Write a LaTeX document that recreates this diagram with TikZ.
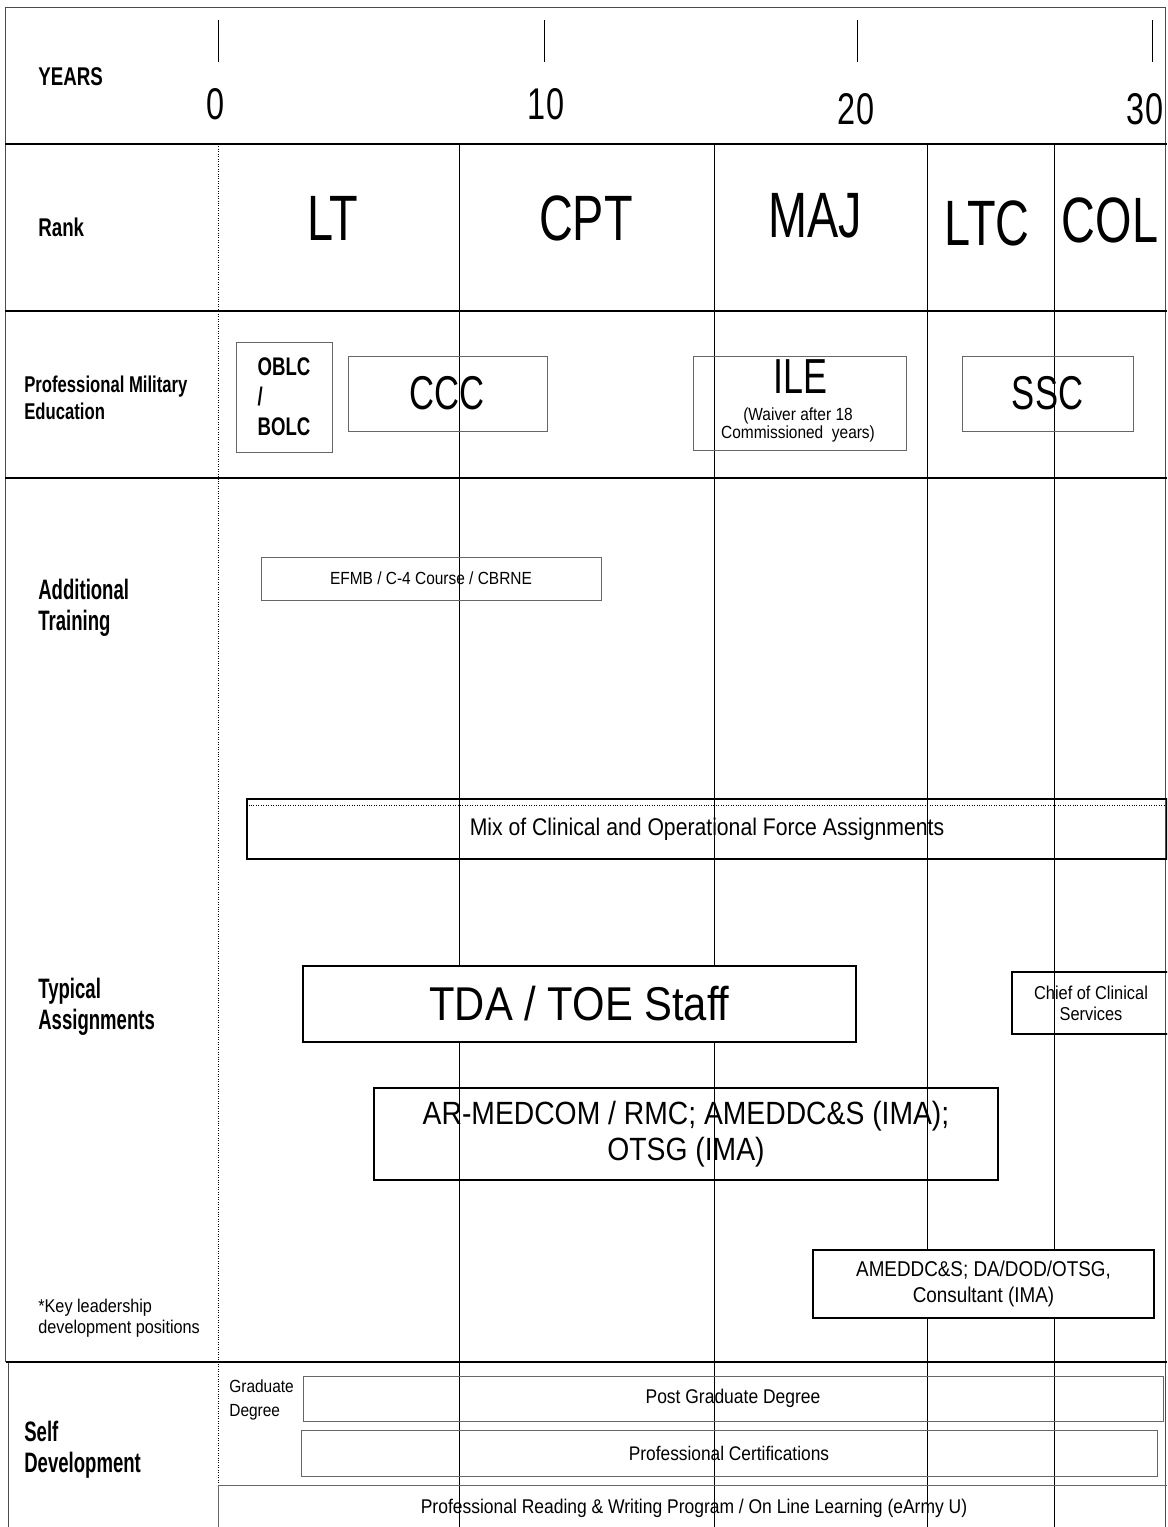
\documentclass[tikz,border=0pt]{standalone}
\usepackage{fontspec}
\setmainfont{Liberation Sans}[FakeStretch=0.88]
\newfontfamily\narrowfont{Liberation Sans}[FakeStretch=0.73]
\newfontfamily\headfont{Liberation Sans}[FakeStretch=0.66]

\newcommand{\fsz}[2]{\fontsize{#1}{#2}\selectfont}

\begin{document}
\begin{tikzpicture}[
      x=0.02cm, y=-0.02cm,
      rowlabel/.style={anchor=west, align=left, inner sep=0pt, font=\headfont\bfseries\fsz{16}{17.6}},
      ranklabel/.style={anchor=base, inner sep=0pt, font=\narrowfont\fsz{36.5}{40}},
      yearlabel/.style={anchor=base, inner sep=0pt, font=\narrowfont\fsz{25.3}{30}},
      course/.style={draw=black!60, align=center, inner sep=0pt},
      assign/.style={draw, line width=1pt, align=center, inner sep=0pt},
      divider/.style={line width=1.2pt},
      gridline/.style={thin},
      zeroline/.style={thin, densely dotted}
    ]
    \useasboundingbox (0,0) rectangle (1167,1527);
    \clip (0,0) rectangle (1167,1527);

    % frame and row dividers
    \draw[black!70] (5,1362) -- (5,7) -- (1165,7) -- (1165,1527);
    \draw[black!70] (8,1362) -- (8,1527);
    \foreach \y in {144,311,478} \draw[divider] (5,\y) -- (1167,\y);
    \draw[divider] (6,1362) -- (1167,1362);

    % year columns
    \draw[zeroline] (218,144) -- (218,1527);
    \foreach \x in {459,714,927,1054} \draw[gridline] (\x,144) -- (\x,1527);
    \foreach \x in {218,544,857,1152} \draw[gridline] (\x,20) -- (\x,62);

    \node[yearlabel] (y0) at (216,120) {0};
    \node[yearlabel] (y10) at (546,120) {10};
    \node[yearlabel] (y20) at (856,125) {20};
    \node[yearlabel] (y30) at (1145,125) {30};

    % ranks
    \node[ranklabel] (lt) at (333,241) {LT};
    \node[ranklabel] (cpt) at (586,241) {CPT};
    \node[ranklabel] (maj) at (815,238) {MAJ};
    \node[ranklabel] (ltc) at (987,246) {LTC};
    \node[ranklabel] (col) at (1110,243) {COL};

    % row labels
    \node[rowlabel, font=\narrowfont\bfseries\fsz{14.6}{17}] (years) at (38,77) {YEARS};
    \node[rowlabel, font=\narrowfont\bfseries\fsz{14.6}{17}] (rank) at (38,227) {Rank};
    \node[rowlabel, font=\narrowfont\bfseries\fsz{13}{15.3}] (pme) at (24,398) {Professional Military\\Education};
    \node[rowlabel] (addl) at (38,608) {Additional\\Training};
    \node[rowlabel] (typical) at (38,1007) {Typical\\Assignments};
    \node[rowlabel, font=\fsz{10.5}{11.9}] (keynote) at (38,1318) {*Key leadership\\development positions};
    \node[rowlabel] (self) at (24,1450) {Self\\Development};
    \node[rowlabel, font=\fsz{10}{13.6}] (grad) at (229,1400) {Graduate\\Degree};

    % professional military education
    \node[course, align=left, minimum width=1.92cm, minimum height=2.2cm, font=\narrowfont\bfseries\fsz{14.5}{17}] (oblc) at (284,397) {OBLC\\/\\BOLC};
    \node[course, minimum width=3.98cm, minimum height=1.5cm, font=\narrowfont\fsz{27}{30}] (ccc) at (447.5,393.5) {CCC};
    \node[course, minimum width=4.26cm, minimum height=1.88cm] (ile) at (799.5,403) {};
    \node[inner sep=0pt, font=\narrowfont\fsz{28}{30}] (iletxt) at (800,377) {ILE};
    \node[inner sep=0pt, align=center, font=\fsz{10}{8.5}] (waiver) at (798,425) {(Waiver after 18\\Commissioned\ \ years)};
    \node[course, minimum width=3.42cm, minimum height=1.5cm, font=\narrowfont\fsz{27}{30}] (ssc) at (1047.5,393.5) {SSC};

    % additional training
    \node[course, minimum width=6.8cm, minimum height=0.86cm, font=\fsz{10}{11}] (efmb) at (431,578.5) {EFMB / C-4 Course / CBRNE};

    % typical assignments
    \node[assign, line width=1.2pt, minimum width=18.4cm, minimum height=1.2cm, font=\fsz{13.7}{14}] (mix) at (707,829) {Mix of Clinical and Operational Force Assignments};
    \draw[densely dotted] ([yshift=-0.14cm]mix.north west) -- ([yshift=-0.14cm]mix.north east);
    \node[assign, fill=white, minimum width=11.06cm, minimum height=1.52cm, font=\fsz{27}{30}] (tda) at (579.5,1004) {TDA / TOE Staff};
    \node[assign, minimum width=3.16cm, minimum height=1.24cm, font=\fsz{10.6}{11.9}] (chief) at (1091,1003) {Chief of Clinical\\Services};
    \node[assign, minimum width=12.48cm, minimum height=1.84cm, font=\fsz{18.3}{20.4}] (armed) at (686,1134) {AR-MEDCOM / RMC; AMEDDC\&S (IMA);\\OTSG (IMA)};
    \node[assign, fill=white, minimum width=6.82cm, minimum height=1.36cm, font=\fsz{12.2}{14.7}] (amed) at (983.5,1284) {AMEDDC\&S; DA/DOD/OTSG,\\Consultant (IMA)};

    % self development
    \node[course, minimum width=17.2cm, minimum height=0.9cm, font=\fsz{11.3}{13}] (pgd) at (733,1398.5) {Post Graduate Degree};
    \node[course, minimum width=17.12cm, minimum height=0.92cm, font=\fsz{11.2}{13}] (cert) at (729,1453) {Professional Certifications};
    \node[course, minimum width=19.04cm, minimum height=0.94cm, font=\fsz{11.3}{13}] (reading) at (694,1508.5) {Professional Reading \& Writing Program / On Line Learning (eArmy U)};
  \end{tikzpicture}
\end{document}
